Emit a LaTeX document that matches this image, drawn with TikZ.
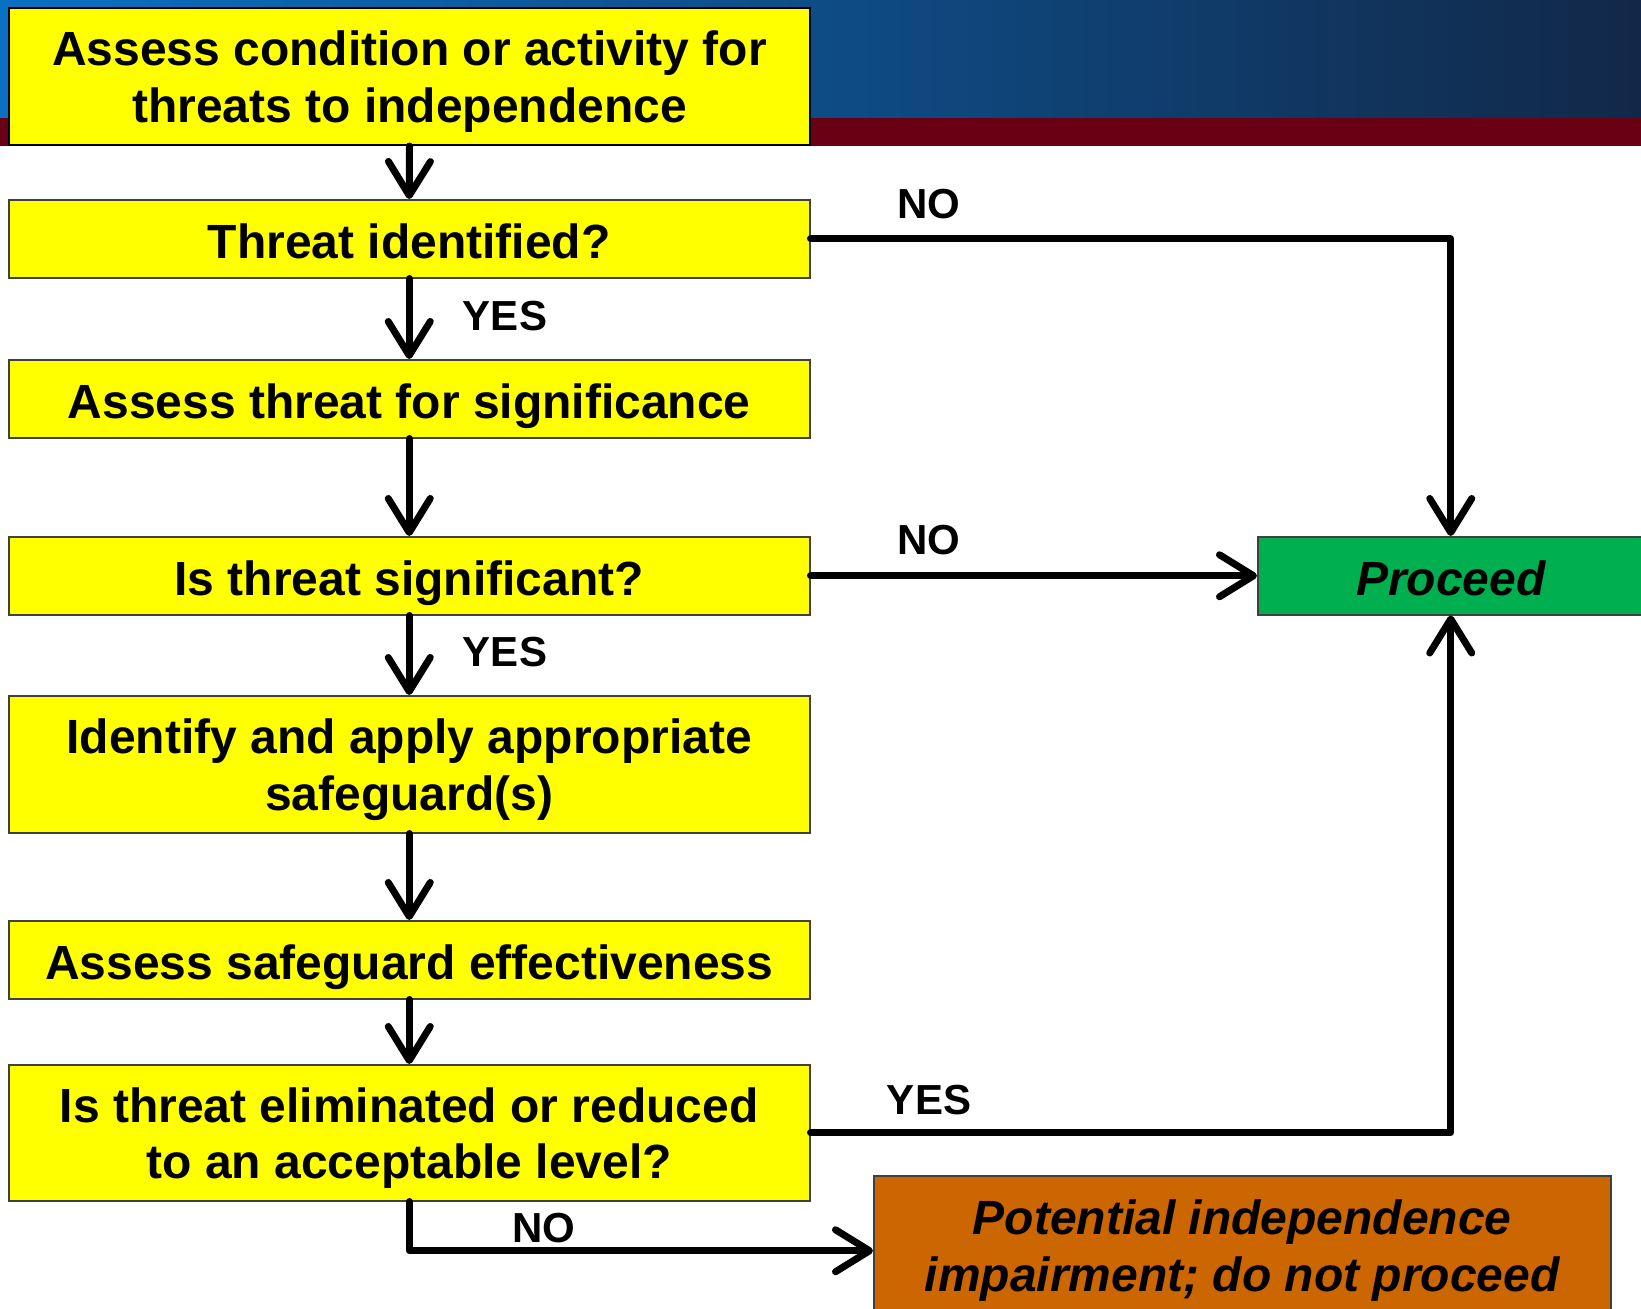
\documentclass[tikz,border=0pt]{standalone}
\usepackage{fontspec}
\setmainfont{Liberation Sans}
\usetikzlibrary{arrows.meta}
\definecolor{boxyellow}{RGB}{255,255,0}
\definecolor{okgreen}{RGB}{0,176,80}
\definecolor{stoporange}{RGB}{204,102,0}
\definecolor{hdrblue}{RGB}{10,112,196}
\definecolor{hdrmid}{RGB}{14,68,124}
\definecolor{hdrnavy}{RGB}{18,40,72}
\definecolor{hdrred}{RGB}{105,0,20}
\begin{document}
\begin{tikzpicture}[x=1pt,y=1pt,
  flowbox/.style={draw=black!75, line width=1.5pt, fill=boxyellow, minimum width=801pt,
    align=center, inner sep=0pt, anchor=north west,
    font=\fontsize{48}{56.5}\selectfont\bfseries},
  oneline/.style={text height=42pt, text depth=3.4pt},
  twoline/.style={text height=98.5pt, text depth=7pt},
  endbox/.style={draw=black!75, line width=1.5pt, align=center, inner sep=0pt, anchor=north west,
    font=\fontsize{48}{56.5}\selectfont\bfseries\itshape},
  lbl/.style={inner sep=0pt, font=\fontsize{42}{42}\selectfont\bfseries},
  conn/.style={line width=7pt, line cap=round, line join=round,
    -{Straight Barb[length=34pt, width=42pt, line cap=round, line join=round]}}
]
\useasboundingbox (0,0) rectangle (1641,-1309);
\fill[white] (0,0) rectangle (1641,-1309);
\shade[left color=hdrblue, middle color=hdrmid, right color=hdrnavy] (0,0) rectangle (1641,-118);
\fill[hdrred] (0,-118) rectangle (1641,-146);

\node[flowbox, twoline, minimum height=137pt, draw=black, line width=2pt] (b1) at (8,-7) {Assess condition or activity for\\threats to independence};
\node[flowbox, oneline, minimum height=78pt] (b2) at (8,-199) {Threat identified?};
\node[flowbox, oneline, minimum height=78pt] (b3) at (8,-359) {Assess threat for significance};
\node[flowbox, oneline, minimum height=78pt] (b4) at (8,-536) {Is threat significant?};
\node[flowbox, twoline, minimum height=137pt] (b5) at (8,-695) {Identify and apply appropriate\\safeguard(s)};
\node[flowbox, oneline, minimum height=78pt] (b6) at (8,-920) {Assess safeguard effectiveness};
\node[flowbox, twoline, minimum height=136pt] (b7) at (8,-1064) {Is threat eliminated or reduced\\to an acceptable level?};
\node[endbox, oneline, fill=okgreen, minimum width=386pt, minimum height=78pt] (go) at (1257,-536) {Proceed};
\node[endbox, fill=stoporange, minimum width=737pt, minimum height=150pt] (stop) at (873,-1175) {Potential independence\\impairment; do not proceed};

\draw[conn] (b1.south) -- (b2.north);
\draw[conn] (b2.south) -- (b3.north);
\draw[conn] (b3.south) -- (b4.north);
\draw[conn] (b4.south) -- (b5.north);
\draw[conn] (b5.south) -- (b6.north);
\draw[conn] (b6.south) -- (b7.north);
\draw[conn] (b2.east) -- (b2.east -| go.north) -- (go.north);
\draw[conn] (b4.east) -- (go.west);
\draw[conn] (b7.east) -- (b7.east -| go.south) -- (go.south);
\draw[conn] (b7.south) -- (b7.south |- stop.west) -- (stop.west);

\node[lbl] (no1) at (929,-204) {NO};
\node[lbl] (no2) at (929,-540) {NO};
\node[lbl] (yes3) at (929,-1100) {YES};
\node[lbl] (yes1) at (505,-316) {YES};
\node[lbl] (yes2) at (505,-652) {YES};
\node[lbl] (no3) at (544,-1228) {NO};
\end{tikzpicture}
\end{document}
